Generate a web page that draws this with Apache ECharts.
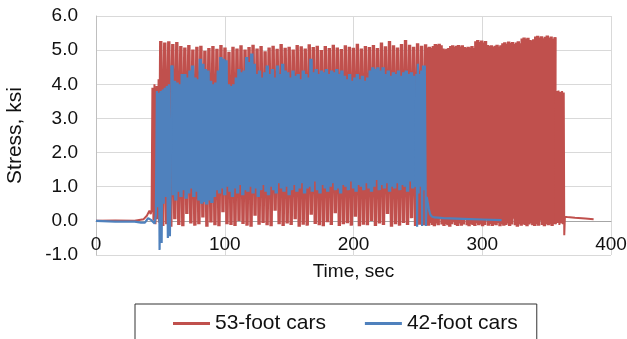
<!DOCTYPE html>
<html>
<head>
<meta charset="utf-8">
<script src="https://cdn.jsdelivr.net/npm/echarts@6/dist/echarts.min.js"></script>
<style>
  html, body { margin: 0; padding: 0; background: #fff; }
  #chart { width: 627px; height: 339px; }
</style>
</head>
<body>
<div id="chart"></div>
<script>
// ---- data ----
const seriesNames = ['53-foot cars', '42-foot cars'];
const xTicks = [0, 100, 200, 300, 400];
const yTicks = [-1, 0, 1, 2, 3, 4, 5, 6];

// 53-foot cars: quiet lead-in and first low peaks (time, ksi)
const redLeadT = [0, 15, 30, 37, 39.5, 41.5, 42.5, 43.2, 43.8, 44.6, 45.4, 46.2, 47.0, 47.8, 48.6, 49.4];
const redLeadV = [0.0, 0.01, 0.0, 0.05, 0.15, 0.3, 0.2, 0.3, 3.9, 0.0, 4.0, -0.1, 3.95, 0.05, 4.15, -0.05];
// 53-foot cars, 50.3 s to 256 s: peaks and troughs of each car
const redPeaksA = [5.27, 5.22, 5.26, 5.18, 5.24, 5.12, 5.08, 5.15, 5.02, 5.1,
  5.13, 4.98, 5.06, 5.12, 5.04, 5.15, 5.08, 4.95, 5.1, 5.05,
  5.14, 5.02, 5.09, 5.16, 5.05, 5.12, 4.97, 5.08, 5.13, 5.04,
  5.18, 5.07, 5.1, 5.02, 5.15, 5.11, 5.05, 5.17, 5.09, 5.13,
  5.0, 5.12, 5.06, 5.16, 5.08, 5.03, 5.14, 5.1, 5.07, 5.19,
  5.05, 5.12, 5.09, 5.15, 5.06, 5.22, 5.11, 5.27, 5.14, 5.08,
  5.18, 5.3, 5.16, 5.1, 5.2, 5.13, 5.17];
const redTroughsA = [-0.15, -0.1, -0.17, 0.05, -0.12, -0.16, 0.2, -0.08, -0.14, -0.1,
  0.1, -0.17, -0.05, -0.13, -0.16, 0.25, -0.1, -0.12, -0.15, 0.0,
  -0.09, -0.14, -0.17, 0.15, -0.11, -0.06, -0.13, -0.16, 0.3, -0.1,
  -0.15, -0.08, -0.12, 0.05, -0.17, -0.11, -0.14, 0.18, -0.09, -0.13,
  -0.16, -0.04, -0.12, 0.22, -0.15, -0.1, -0.07, -0.14, 0.12, -0.16,
  -0.11, -0.13, 0.0, -0.15, -0.08, -0.12, 0.2, -0.17, -0.1, -0.14,
  -0.06, -0.12, 0.08, -0.15, -0.11, -0.13];
// 53-foot cars, 256.8 s to 356.5 s (denser part)
const redTroughsB = [-0.1, -0.14, -0.06, -0.12, -0.16, -0.08, -0.13, 0.05, -0.11, -0.15,
  -0.09, -0.13, -0.17, -0.1, -0.04, -0.12, -0.15, -0.08, -0.14, -0.11,
  0.08, -0.13, -0.16, -0.09, -0.12, -0.15, -0.07, -0.13, -0.1, -0.16,
  -0.12, 0.02, -0.14, -0.09, -0.15, -0.11, -0.13, -0.06, -0.16, -0.1,
  -0.14, -0.12, -0.08, -0.15, -0.11, 0.06, -0.13, -0.17, -0.1, -0.14,
  -0.09, -0.12, -0.16, -0.11, -0.07, -0.13, -0.15, -0.1, -0.14, 0.0,
  -0.12, -0.16, -0.09, -0.13, -0.11, -0.15, -0.1];
const redPeaksB = [5.08, 5.1, 5.06, 5.12, 5.18, 5.16, 5.19, 5.14, 5.05, 5.02,
  5.04, 5.06, 5.12, 5.14, 5.1, 5.13, 5.15, 5.11, 5.14, 5.09,
  5.07, 5.1, 5.08, 5.12, 5.06, 5.26, 5.3, 5.24, 5.28, 5.22,
  5.27, 5.15, 5.12, 5.14, 5.1, 5.13, 5.16, 5.11, 5.14, 5.2,
  5.23, 5.19, 5.25, 5.21, 5.24, 5.18, 5.22, 5.26, 5.2, 5.34,
  5.37, 5.33, 5.36, 5.3, 5.28, 5.32, 5.4, 5.42, 5.37, 5.41,
  5.35, 5.39, 5.43, 5.36, 5.4, 5.33, 5.38];
// 53-foot cars: last low peaks and tail
const redEndT = [356.5, 357.2, 357.8, 358.5, 359.2, 359.9, 360.6, 361.3, 362.0, 362.7, 363.3, 363.7, 364.2, 366, 372, 380, 386.5];
const redEndV = [5.38, -0.1, 3.8, -0.06, 3.82, -0.12, 3.78, -0.08, 3.8, -0.1, 3.76, -0.42, 0.12, 0.11, 0.09, 0.07, 0.05];

// 42-foot cars: lead-in with the dips below zero
const blueLeadT = [0, 15, 30, 35, 38, 40.5, 43, 45.5, 46.5, 47.3, 48.1, 48.7, 49.4, 50.2, 51.0, 51.8, 52.6, 53.4, 54.2, 55.0, 55.8, 56.6, 57.4, 59];
const blueLeadV = [0.0, -0.02, -0.02, -0.05, -0.05, 0.08, 0.02, -0.08, 0.2, 3.8, 0.4, 3.75, -0.85, 3.8, -0.65, 3.85, 0.5, 3.9, 0.7, 3.95, -0.5, 4.0, -0.45, 4.55];
// 42-foot cars, 59 s to 248 s
const bluePeaks = [4.55, 4.1, 4.05, 4.0, 4.3, 4.3, 4.2, 4.4, 4.55, 4.2,
  4.15, 4.75, 4.6, 4.45, 4.4, 4.1, 4.0, 4.05, 4.4, 4.8,
  4.75, 4.7, 4.0, 3.95, 4.0, 4.2, 4.45, 4.35, 4.4, 4.8,
  4.65, 4.9, 4.6, 4.3, 4.4, 4.2, 4.35, 4.55, 4.3, 4.45,
  4.2, 4.55, 4.3, 4.6, 4.4, 4.35, 4.2, 4.4, 4.25, 4.3,
  4.15, 4.4, 4.3, 4.2, 4.75, 4.35, 4.45, 4.3, 4.4, 4.35,
  4.45, 4.3, 4.4, 4.35, 4.45, 4.3, 4.4, 4.25, 4.15, 4.3,
  4.1, 4.2, 4.3, 4.15, 4.25, 4.1, 4.2, 4.4, 4.5, 4.45,
  4.5, 4.4, 4.5, 4.3, 4.4, 4.25, 4.35, 4.3, 4.4, 4.25,
  4.35, 4.4, 4.3, 4.35, 4.25];
const blueTroughs = [0.75, 0.6, 0.85, 0.7, 0.9, 0.65, 0.8, 0.95, 0.7, 0.85,
  0.6, 0.5, 0.55, 0.48, 0.6, 0.52, 0.7, 0.9, 0.8, 0.95,
  0.75, 1.0, 0.85, 0.7, 0.95, 0.8, 1.05, 0.75, 0.9, 0.85,
  1.0, 0.8, 0.95, 0.7, 0.9, 1.05, 0.85, 0.75, 1.0, 0.9,
  0.8, 1.1, 0.95, 0.85, 1.0, 0.75, 0.9, 1.05, 0.85, 0.95,
  1.1, 0.8, 0.95, 1.0, 0.85, 1.15, 0.9, 0.8, 1.05, 0.95,
  0.85, 1.0, 1.1, 0.9, 0.95, 0.8, 1.05, 1.0, 0.9, 1.15,
  0.95, 0.85, 1.05, 1.0, 0.9, 1.1, 0.95, 0.85, 1.0, 1.2,
  0.9, 1.05, 0.95, 1.1, 0.85, 1.0, 0.95, 1.1, 0.9, 1.05,
  1.0, 0.85, 1.15, 0.95, 1.0];
// 42-foot cars: end of train and tail
const blueEndT = [248, 248.8, 249.4, 250.0, 250.6, 251.2, 251.9, 252.6, 253.3, 254.0, 254.7, 255.4, 256.2, 256.9, 257.6, 258.5, 259.5, 260.7, 263, 270, 285, 300, 315];
const blueEndV = [1.0, 4.3, -0.17, 4.6, 0.8, 4.3, 1.0, 4.4, -0.15, 4.55, 0.9, 4.55, -0.15, 0.7, 0.55, 0.35, 0.2, 0.13, 0.1, 0.08, 0.06, 0.04, 0.02];

// ---- build [time, value] pairs ----
const pairs = (ts, vs) => ts.map((t, i) => [t, vs[i]]);
// alternate two lists of extremes, spread evenly between two read times
function zigzag(tStart, tEnd, first, second) {
  const vals = [];
  for (let i = 0; i < Math.max(first.length, second.length); i++) {
    if (i < first.length) vals.push(first[i]);
    if (i < second.length) vals.push(second[i]);
  }
  const step = (tEnd - tStart) / (vals.length - 1);
  return vals.map((v, i) => [tStart + i * step, v]);
}

// dense parts are drawn with a heavier stroke, lead-ins and tails with a thin one
const redDense = [].concat(
  [[redLeadT[redLeadT.length - 1], redLeadV[redLeadV.length - 1]]],
  zigzag(50.3, 256.0, redPeaksA, redTroughsA),
  zigzag(256.8, 356.5, redTroughsB, redPeaksB)
);
const redThin = [].concat(pairs(redLeadT, redLeadV), [null], pairs(redEndT, redEndV));
const blueDense = zigzag(59, 248, bluePeaks, blueTroughs);
const blueThin = [].concat(pairs(blueLeadT, blueLeadV), [null], pairs(blueEndT, blueEndV));

const red = '#c0504d';
const blue = '#4f81bd';
const lineSeries = (name, data, color, width) => ({
  name, type: 'line', data,
  symbol: 'none', showSymbol: false, connectNulls: false,
  lineStyle: { color, width }, itemStyle: { color },
  emphasis: { disabled: true }
});

const font = 'Liberation Sans, Arial, sans-serif';
const chart = echarts.init(document.getElementById('chart'));
chart.setOption({
  animation: false,
  backgroundColor: '#fff',
  grid: { left: 96, right: 16, top: 16, bottom: 84, outerBoundsMode: 'none', containLabel: false },
  xAxis: {
    type: 'value',
    min: xTicks[0], max: xTicks[xTicks.length - 1], interval: 100,
    // axis sits on the 0.0 line, one y unit (34 px) above the plot bottom
    offset: -34,
    name: 'Time, sec', nameLocation: 'middle', nameGap: 41,
    nameTextStyle: { fontFamily: font, fontSize: 19, color: '#111' },
    axisLine: { onZero: false, lineStyle: { color: '#a6a6a6', width: 1 } },
    axisTick: { show: false },
    axisLabel: { fontFamily: font, fontSize: 19, color: '#111', margin: 14 },
    splitLine: { show: true, lineStyle: { color: '#d9d9d9', width: 1 } }
  },
  yAxis: {
    type: 'value',
    min: yTicks[0], max: yTicks[yTicks.length - 1], interval: 1,
    name: 'Stress, ksi', nameLocation: 'middle', nameGap: 70, nameRotate: 90,
    nameTextStyle: { fontFamily: font, fontSize: 21, color: '#111' },
    axisLine: { show: true, lineStyle: { color: '#bfbfbf', width: 1 } },
    axisTick: { show: false },
    axisLabel: { fontFamily: font, fontSize: 19, color: '#111', margin: 18,
      formatter: v => v.toFixed(1) },
    splitLine: { show: true, lineStyle: { color: '#d9d9d9', width: 1 } }
  },
  legend: {
    data: seriesNames,
    left: 135, top: 304,
    padding: [9, 19, 12, 38],
    icon: 'rect',
    itemGap: 39, itemWidth: 37, itemHeight: 3,
    borderColor: '#333', borderWidth: 1,
    textStyle: { fontFamily: font, fontSize: 21, color: '#111' }
  },
  series: [
    lineSeries(seriesNames[0], redDense, red, 3.4),
    lineSeries(seriesNames[0], redThin, red, 2),
    lineSeries(seriesNames[1], blueDense, blue, 3.4),
    lineSeries(seriesNames[1], blueThin, blue, 2.2)
  ]
});
</script>
</body>
</html>
